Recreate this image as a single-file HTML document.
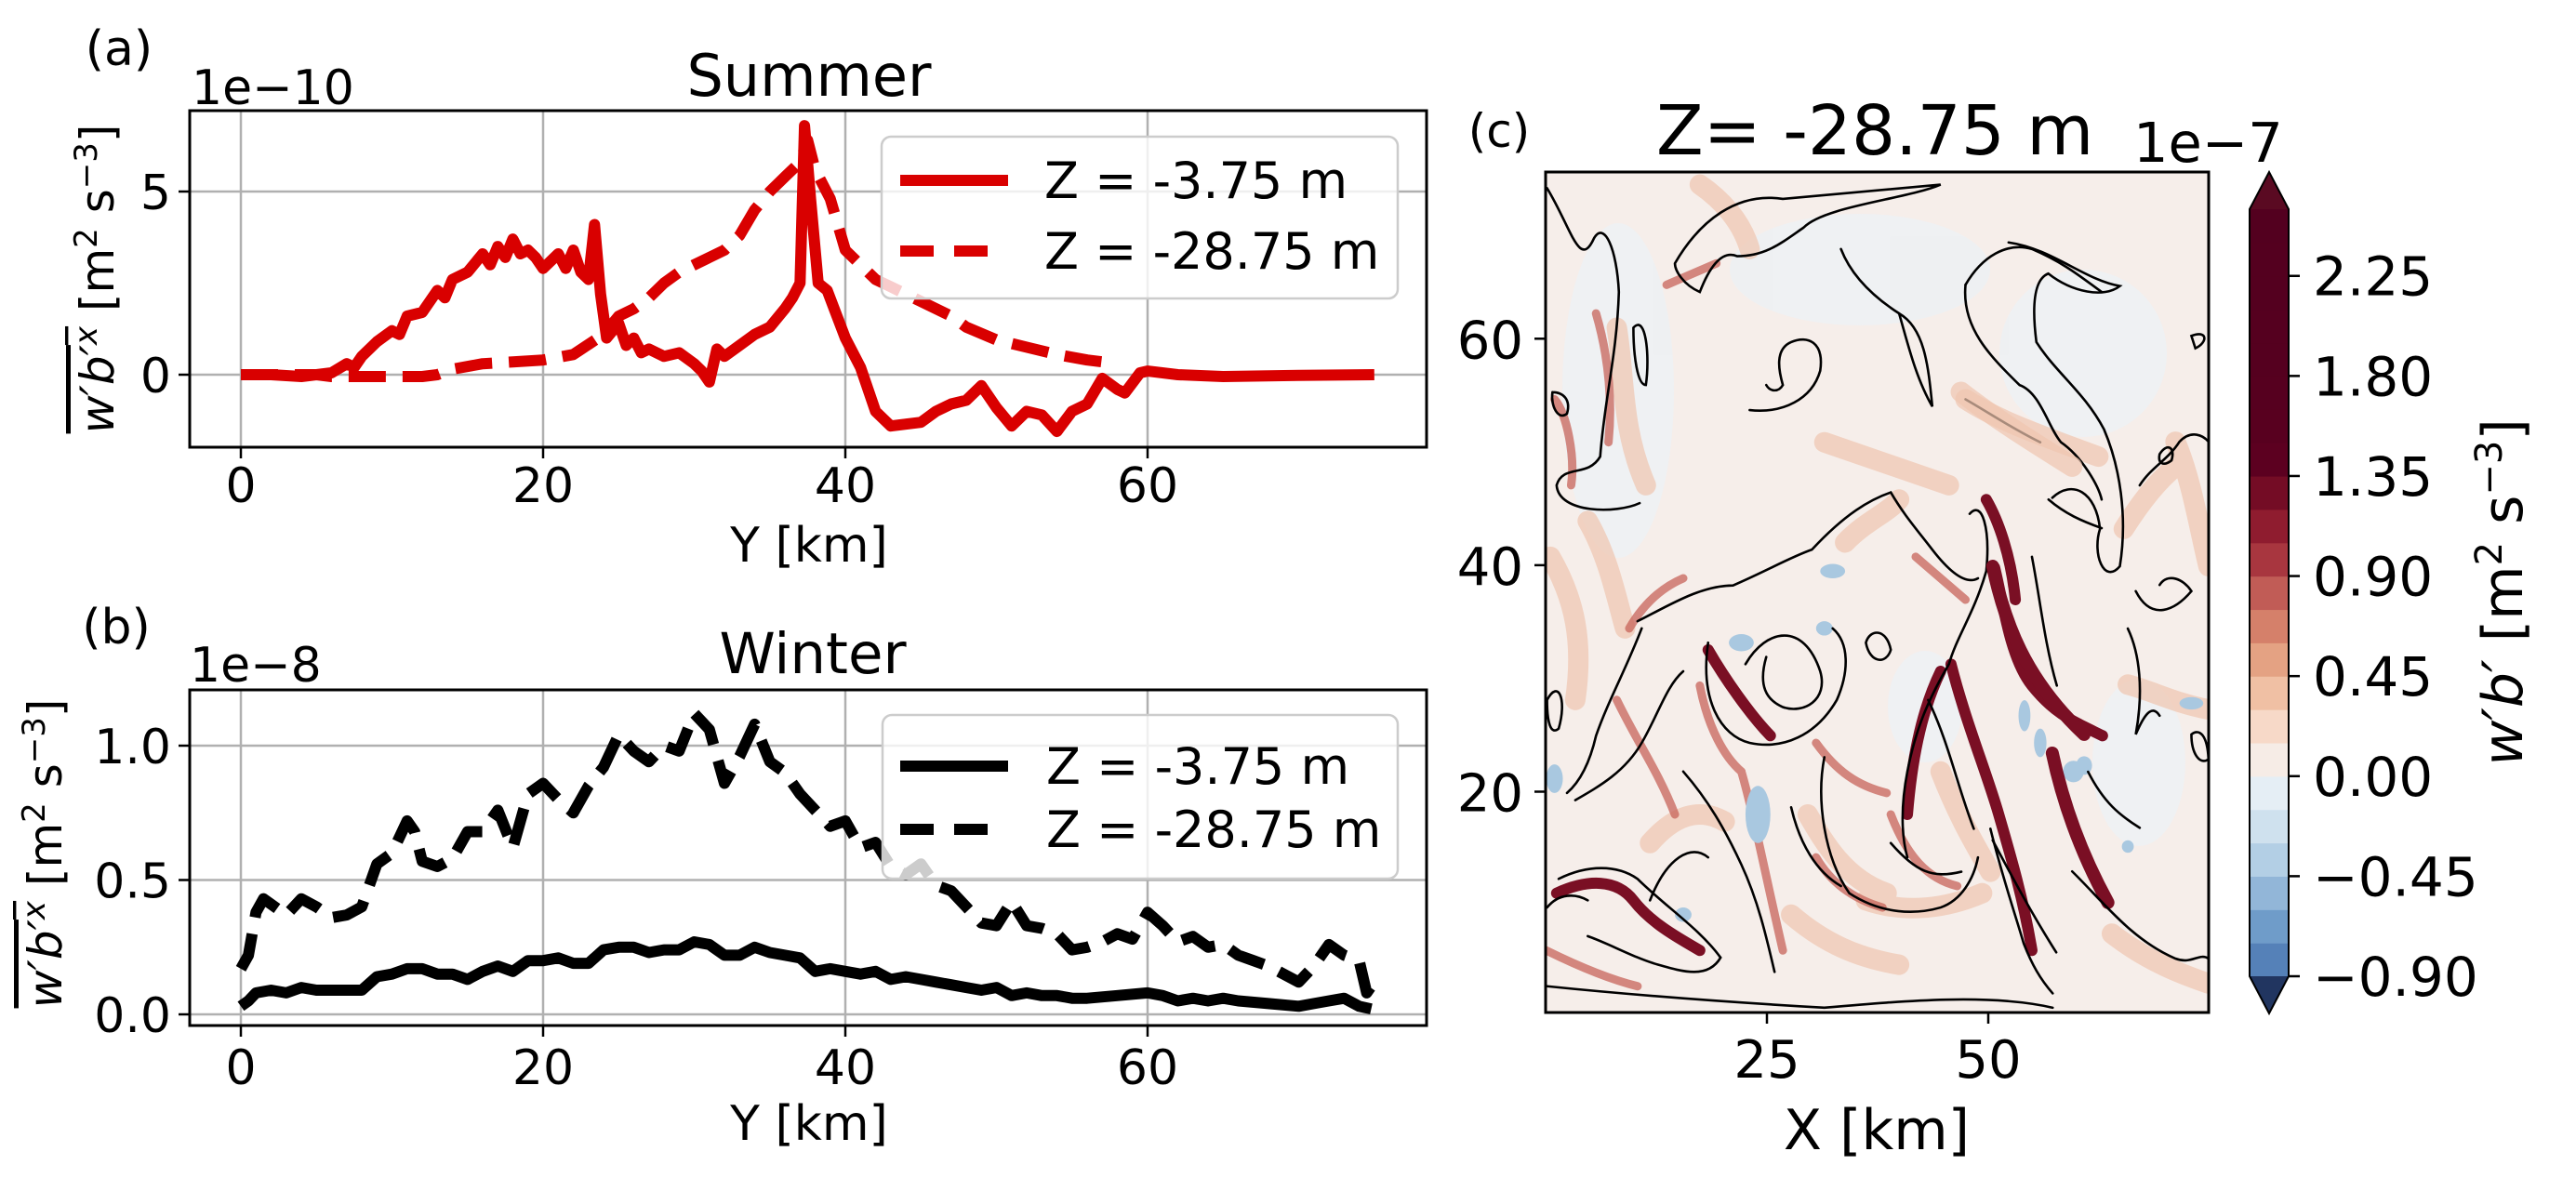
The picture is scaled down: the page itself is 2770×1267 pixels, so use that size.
<!DOCTYPE html>
<html><head><meta charset="utf-8"><style>
html,body{margin:0;padding:0;background:#fff;}
svg{display:block;font-family:"DejaVu Sans","Liberation Sans",sans-serif;}
</style></head><body>
<svg id="fig" width="2770" height="1267" viewBox="0 0 2770 1267" xmlns="http://www.w3.org/2000/svg">
<defs>
<clipPath id="clipA"><rect x="204" y="119" width="1330" height="362"/></clipPath>
<clipPath id="clipB"><rect x="204" y="742" width="1330" height="361"/></clipPath>
<clipPath id="clipC"><rect x="1662" y="185" width="713" height="904"/></clipPath>
</defs>
<rect width="2770" height="1267" fill="#fff"/>

<g id="panelA">
<g id="gridA"></g>
<g id="linesA" clip-path="url(#clipA)"></g>
<rect x="204" y="119" width="1330" height="362" fill="none" stroke="#000" stroke-width="3"/>
<g id="ticksA"></g>
<text x="128" y="70" font-size="52" text-anchor="middle">(a)</text>
<text x="206" y="112" font-size="52">1e−10</text>
<text x="870" y="103" font-size="62" text-anchor="middle">Summer</text>
<text x="870" y="604" font-size="52" text-anchor="middle">Y [km]</text>
<text transform="translate(122,300) rotate(-90)" font-size="50" text-anchor="middle"><tspan font-style="italic" text-decoration="overline">w′b′</tspan><tspan font-style="italic" text-decoration="overline" font-size="34" dy="-18">x</tspan><tspan dy="18"> [m</tspan><tspan font-size="34" dy="-18">2</tspan><tspan dy="18"> s</tspan><tspan font-size="34" dy="-18">−3</tspan><tspan dy="18">]</tspan></text>
<g>
<rect x="948" y="147" width="555" height="174" rx="10" fill="#fff" fill-opacity="0.8" stroke="#ccc" stroke-width="2.5"/>
<line x1="968" y1="194" x2="1084" y2="194" stroke="#d90000" stroke-width="12"/>
<text x="1123" y="213" font-size="54">Z = -3.75 m</text>
<line x1="968" y1="270" x2="1084" y2="270" stroke="#d90000" stroke-width="12" stroke-dasharray="36 22"/>
<text x="1123" y="289" font-size="54">Z = -28.75 m</text>
</g>
</g>

<g id="panelB">
<g id="gridB"></g>
<g id="linesB" clip-path="url(#clipB)"></g>
<rect x="204" y="742" width="1330" height="361" fill="none" stroke="#000" stroke-width="3"/>
<g id="ticksB"></g>
<text x="125" y="692" font-size="52" text-anchor="middle">(b)</text>
<text x="204" y="733" font-size="52">1e−8</text>
<text x="874" y="724" font-size="61" text-anchor="middle">Winter</text>
<text x="870" y="1226" font-size="52" text-anchor="middle">Y [km]</text>
<text transform="translate(66,918) rotate(-90)" font-size="50" text-anchor="middle"><tspan font-style="italic" text-decoration="overline">w′b′</tspan><tspan font-style="italic" text-decoration="overline" font-size="34" dy="-18">x</tspan><tspan dy="18"> [m</tspan><tspan font-size="34" dy="-18">2</tspan><tspan dy="18"> s</tspan><tspan font-size="34" dy="-18">−3</tspan><tspan dy="18">]</tspan></text>
<g>
<rect x="949" y="769" width="554" height="176" rx="10" fill="#fff" fill-opacity="0.8" stroke="#ccc" stroke-width="2.5"/>
<line x1="968" y1="824" x2="1084" y2="824" stroke="#000" stroke-width="12"/>
<text x="1125" y="843" font-size="54">Z = -3.75 m</text>
<line x1="968" y1="892" x2="1084" y2="892" stroke="#000" stroke-width="12" stroke-dasharray="36 22"/>
<text x="1125" y="911" font-size="54">Z = -28.75 m</text>
</g>
</g>

<g id="panelC">
<g clip-path="url(#clipC)">
<rect x="1662" y="185" width="713" height="904" fill="#f6eeea"/>
<g fill="#edf1f4" opacity="0.85">
<ellipse cx="1740" cy="420" rx="60" ry="180"/>
<ellipse cx="2000" cy="290" rx="140" ry="60"/>
<ellipse cx="2240" cy="380" rx="90" ry="90"/>
<ellipse cx="2070" cy="760" rx="40" ry="60"/>
<ellipse cx="2300" cy="820" rx="50" ry="90"/>
</g>
<g transform="translate(1560,60) scale(0.4464,0.7698)" fill="none" stroke-linecap="round">
<g stroke="#f0c6b0" stroke-width="22" opacity="0.7">
<path vector-effect="non-scaling-stroke" d="M400,380 C420,450 410,520 470,600"/>
<path vector-effect="non-scaling-stroke" d="M1240,480 C1320,510 1420,530 1560,560"/>
<path vector-effect="non-scaling-stroke" d="M860,1060 C900,1100 950,1150 1050,1170"/>
<path vector-effect="non-scaling-stroke" d="M1000,1180 C1100,1200 1200,1190 1280,1170"/>
<path vector-effect="non-scaling-stroke" d="M950,680 C1000,650 1050,640 1080,620"/>
<path vector-effect="non-scaling-stroke" d="M330,650 C380,700 400,760 420,800"/>
<path vector-effect="non-scaling-stroke" d="M900,540 C1000,560 1100,580 1200,600"/>
<path vector-effect="non-scaling-stroke" d="M240,700 C300,760 320,820 300,900"/>
<path vector-effect="non-scaling-stroke" d="M600,180 C650,200 700,230 720,270"/>
<path vector-effect="non-scaling-stroke" d="M1180,1000 C1220,1060 1260,1100 1300,1140"/>
<path vector-effect="non-scaling-stroke" d="M480,1100 C540,1060 600,1050 660,1070"/>
<path vector-effect="non-scaling-stroke" d="M820,1200 C900,1240 980,1260 1080,1270"/>
</g>
<g stroke="#c8645a" stroke-width="9" opacity="0.75">
<path vector-effect="non-scaling-stroke" d="M250,480 C280,500 300,560 290,600"/>
<path vector-effect="non-scaling-stroke" d="M700,1000 C730,1060 760,1150 800,1250"/>
<path vector-effect="non-scaling-stroke" d="M230,1250 C300,1270 380,1290 450,1300"/>
<path vector-effect="non-scaling-stroke" d="M520,320 C560,310 600,300 640,290"/>
<path vector-effect="non-scaling-stroke" d="M880,960 C930,1000 980,1020 1050,1030"/>
<path vector-effect="non-scaling-stroke" d="M430,800 C470,760 520,740 560,730"/>
<path vector-effect="non-scaling-stroke" d="M400,900 C450,960 500,1000 540,1060"/>
<path vector-effect="non-scaling-stroke" d="M1060,1060 C1100,1120 1150,1150 1220,1160"/>
<path vector-effect="non-scaling-stroke" d="M880,1120 C920,1160 980,1180 1040,1190"/>
<path vector-effect="non-scaling-stroke" d="M600,880 C620,940 660,980 700,1000"/>
<path vector-effect="non-scaling-stroke" d="M1120,700 C1160,720 1200,740 1240,760"/>
<path vector-effect="non-scaling-stroke" d="M350,360 C380,420 390,480 380,540"/>
</g>
<g stroke="#7a0f24" stroke-width="12">
<path vector-effect="non-scaling-stroke" d="M1310,715 C1330,760 1345,840 1400,880 S1500,930 1570,950"/>
<path vector-effect="non-scaling-stroke" d="M1180,860 C1130,920 1110,990 1100,1060"/>
<path vector-effect="non-scaling-stroke" d="M1205,850 C1240,930 1290,1000 1320,1060 S1380,1180 1400,1250"/>
<path vector-effect="non-scaling-stroke" d="M255,1170 C330,1150 400,1150 440,1180 S540,1230 600,1250"/>
<path vector-effect="non-scaling-stroke" d="M620,830 C660,870 720,920 770,950"/>
<path vector-effect="non-scaling-stroke" d="M1290,620 C1320,650 1350,700 1360,760"/>
</g>
<g fill="#a9c8e0" stroke="none">
<ellipse cx="740" cy="1060" rx="30" ry="40"/><ellipse cx="1420" cy="960" rx="15" ry="20"/>
<ellipse cx="1500" cy="1000" rx="25" ry="15"/><ellipse cx="250" cy="1010" rx="20" ry="20"/>
<ellipse cx="700" cy="820" rx="30" ry="12"/><ellipse cx="900" cy="800" rx="20" ry="10"/>
<ellipse cx="560" cy="1200" rx="20" ry="10"/><ellipse cx="920" cy="720" rx="30" ry="10"/>
</g>
<g stroke="#000" stroke-width="2.6">
<path vector-effect="non-scaling-stroke" d="M232,185 C290,240 310,300 345,255 C370,230 400,270 405,330 C400,420 370,480 360,560 C330,590 270,570 255,600 C260,640 400,640 455,625"/>
<path vector-effect="non-scaling-stroke" d="M540,290 C600,230 690,190 800,200 L1180,180 C1100,200 900,210 850,240 C800,260 760,280 690,280 C650,270 620,300 600,330 C560,320 540,300 540,290"/>
<path vector-effect="non-scaling-stroke" d="M1240,320 C1280,280 1340,260 1400,270 C1480,290 1520,310 1568,330"/>
<path vector-effect="non-scaling-stroke" d="M1240,320 C1230,380 1300,420 1370,460 C1420,470 1440,520 1470,540 C1520,560 1560,600 1568,620"/>
<path vector-effect="non-scaling-stroke" d="M720,495 C800,500 870,480 890,440 C900,400 860,390 820,400 C780,410 790,440 800,460 C790,470 770,470 760,460"/>
<path vector-effect="non-scaling-stroke" d="M1080,360 C1100,400 1120,450 1160,490 C1150,430 1140,380 1080,360 Z"/>
<path vector-effect="non-scaling-stroke" d="M440,380 C470,360 480,420 470,460 C450,460 440,420 440,380 Z"/>
<path vector-effect="non-scaling-stroke" d="M450,790 C520,770 600,740 680,740 C760,720 820,700 870,690 C950,640 1010,620 1060,610 C1090,640 1120,660 1160,690 C1200,720 1240,740 1270,730"/>
<path vector-effect="non-scaling-stroke" d="M1250,640 C1280,620 1300,660 1290,720 C1260,780 1220,810 1200,850 C1150,900 1120,940 1100,1000 C1080,1060 1090,1100 1100,1120"/>
<path vector-effect="non-scaling-stroke" d="M710,850 C760,800 850,790 890,860 C910,900 850,920 800,910 C760,900 740,880 760,840"/>
<path vector-effect="non-scaling-stroke" d="M620,820 C600,900 650,950 720,960 C800,970 880,950 930,900 C960,860 960,820 920,800"/>
<path vector-effect="non-scaling-stroke" d="M260,1150 C330,1130 400,1130 450,1150 C520,1190 600,1220 650,1260 C620,1290 560,1280 500,1270 C440,1260 380,1240 330,1230"/>
<path vector-effect="non-scaling-stroke" d="M232,1300 C400,1310 600,1320 900,1330 C1100,1320 1300,1310 1450,1330"/>
<path vector-effect="non-scaling-stroke" d="M560,1000 C620,1040 660,1080 700,1130 C740,1180 760,1230 780,1280"/>
<path vector-effect="non-scaling-stroke" d="M900,980 C880,1040 900,1120 960,1170 C1040,1200 1120,1200 1180,1190 C1230,1180 1260,1150 1270,1120"/>
<path vector-effect="non-scaling-stroke" d="M1300,1080 C1330,1150 1360,1200 1380,1240 C1400,1270 1420,1290 1450,1310"/>
<path vector-effect="non-scaling-stroke" d="M460,800 C420,860 380,900 350,950 C330,1000 300,1020 280,1030"/>
<path vector-effect="non-scaling-stroke" d="M1000,820 C1010,800 1050,800 1060,830 C1050,850 1010,850 1000,820 Z"/>
<path vector-effect="non-scaling-stroke" d="M1400,700 C1420,760 1430,820 1460,880"/>
<path vector-effect="non-scaling-stroke" d="M1440,620 C1480,640 1520,650 1568,660"/>
<path vector-effect="non-scaling-stroke" d="M245,470 C270,470 290,480 280,500 C260,510 240,490 245,470"/>
<path vector-effect="non-scaling-stroke" d="M232,900 C260,870 280,900 260,940 C240,950 232,930 232,900"/>
<path vector-effect="non-scaling-stroke" d="M1240,480 C1300,500 1350,520 1420,540"/>
<path vector-effect="non-scaling-stroke" d="M1060,1100 C1120,1140 1160,1150 1230,1140"/>
<path vector-effect="non-scaling-stroke" d="M300,1040 C360,1020 420,1000 460,960 C500,920 520,880 560,860"/>
<path vector-effect="non-scaling-stroke" d="M480,1180 C520,1120 580,1100 620,1120"/>
<path vector-effect="non-scaling-stroke" d="M820,1050 C840,1100 880,1140 940,1160"/>
<path vector-effect="non-scaling-stroke" d="M1150,900 C1200,960 1220,1020 1260,1080"/>
<path vector-effect="non-scaling-stroke" d="M232,1190 C260,1170 300,1170 330,1180"/>
<path vector-effect="non-scaling-stroke" d="M1080,360 C1000,330 960,300 940,270"/>
</g>
</g>
<g transform="translate(2100,100) scale(0.4274,0.6698)" fill="none" stroke-linecap="round">
<g stroke="#f0c6b0" stroke-width="22" opacity="0.7">
<path vector-effect="non-scaling-stroke" d="M440,950 C500,960 560,980 643,990"/>
<path vector-effect="non-scaling-stroke" d="M430,700 C480,650 520,620 560,600"/>
<path vector-effect="non-scaling-stroke" d="M400,1350 C500,1400 600,1420 643,1430"/>
<path vector-effect="non-scaling-stroke" d="M20,480 C100,520 200,560 300,600"/>
<path vector-effect="non-scaling-stroke" d="M560,560 C600,620 620,700 643,760"/>
</g>
<g stroke="#7a0f24" stroke-width="14">
<path vector-effect="non-scaling-stroke" d="M100,760 C130,850 180,940 330,1030"/>
<path vector-effect="non-scaling-stroke" d="M250,1060 C280,1150 330,1230 390,1300"/>
</g>
<g fill="#a9c8e0" stroke="none">
<ellipse cx="180" cy="1000" rx="15" ry="25"/><ellipse cx="330" cy="1080" rx="20" ry="15"/>
<ellipse cx="600" cy="980" rx="30" ry="10"/><ellipse cx="440" cy="1210" rx="15" ry="10"/>
</g>
<g stroke="#000" stroke-width="2.6">
<path vector-effect="non-scaling-stroke" d="M140,240 C250,250 330,300 420,310 C380,330 300,320 240,290 C200,300 200,350 210,400 C260,450 330,480 380,540 C420,600 440,680 420,760 C380,790 350,740 370,700 C360,640 300,620 250,650"/>
<path vector-effect="non-scaling-stroke" d="M600,390 C640,380 643,400 610,410 Z"/>
<path vector-effect="non-scaling-stroke" d="M470,630 C500,600 540,590 570,560 C600,540 630,550 643,560"/>
<path vector-effect="non-scaling-stroke" d="M460,800 C500,850 560,830 600,800 C580,780 540,770 520,790"/>
<path vector-effect="non-scaling-stroke" d="M440,860 C470,900 480,960 460,1030 C480,1000 500,980 520,1000"/>
<path vector-effect="non-scaling-stroke" d="M600,1030 C620,1020 640,1030 643,1070 C620,1080 600,1060 600,1030"/>
<path vector-effect="non-scaling-stroke" d="M340,1090 C380,1140 420,1160 470,1180"/>
<path vector-effect="non-scaling-stroke" d="M300,1250 C380,1300 450,1360 560,1390 C600,1400 620,1380 643,1390"/>
<path vector-effect="non-scaling-stroke" d="M100,1200 C150,1260 200,1320 260,1380"/>
<path vector-effect="non-scaling-stroke" d="M520,580 C540,560 560,570 550,590 C530,600 515,595 520,580"/>
</g>
</g>
</g>
<rect x="1662" y="185" width="713" height="904" fill="none" stroke="#000" stroke-width="3"/>
<g id="ticksC"></g>
<text x="1612" y="158" font-size="50" text-anchor="middle">(c)</text>
<text x="1781" y="166" font-size="74">Z= -28.75 m</text>
<text x="2018" y="1236" font-size="60" text-anchor="middle">X [km]</text>
<g id="colorbar"></g>
<text x="2294" y="174" font-size="59">1e−7</text>
<text transform="translate(2712,637) rotate(-90)" font-size="60" text-anchor="middle"><tspan font-style="italic">w′b′</tspan><tspan> [m</tspan><tspan font-size="40" dy="-22">2</tspan><tspan dy="22"> s</tspan><tspan font-size="40" dy="-22">−3</tspan><tspan dy="22">]</tspan></text>
</g>
</svg>
<script>
// ---- Panel a data (units 1e-10) ----
const aSolidX = [0,2,4,5,6,7,7.5,8,9,10,10.5,11,12,13,13.5,14,15,16,16.5,17,17.5,18,18.5,19,19.5,20,21,21.5,22,22.5,23,23.4,23.8,24.2,25,25.5,26,26.5,27,28,29,30,30.5,31,31.5,32,33,34,35,36,36.5,37,37.3,37.7,38.2,38.8,40,41,42,43,44,45,46,47,48,49,50,51,52,53,54,55,56,57,58,58.5,59.5,60,62,65,70,75];
const aSolidY = [0,0,-0.05,0,0.05,0.3,0.2,0.5,0.9,1.2,1.1,1.6,1.7,2.3,2.1,2.6,2.8,3.3,3.0,3.5,3.2,3.7,3.3,3.4,3.2,2.9,3.3,2.9,3.4,2.8,2.6,4.1,2.2,1.0,1.4,0.8,1.0,0.6,0.7,0.5,0.6,0.3,0.1,-0.2,0.7,0.5,0.8,1.1,1.3,1.8,2.1,2.5,6.8,4.8,2.5,2.3,1.0,0.2,-1.0,-1.4,-1.35,-1.3,-1.0,-0.8,-0.7,-0.3,-0.9,-1.4,-1.0,-1.1,-1.55,-1.0,-0.8,-0.1,-0.4,-0.5,0.05,0.1,0.0,-0.05,-0.02,0.0];
const aDashX = [0,5,6,8,10,12,13,14,16,18,20,22,24,25,26,27,28,29,30,31,32,33,34,35,36,37,37.5,38,39,40,41,42,43,45,47,48,50,52,54,56,57];
const aDashY = [0,0,-0.05,-0.05,-0.05,-0.05,0,0.15,0.3,0.35,0.4,0.55,1.1,1.6,1.8,2.1,2.5,2.8,3.0,3.2,3.4,3.8,4.5,5.0,5.4,5.8,6.4,5.6,4.8,3.4,3.0,2.6,2.4,2.0,1.6,1.3,0.95,0.75,0.55,0.4,0.35];
const aXTicks = [0,20,40,60];
const aYTicks = [0,5];
const aYTickLabels = ["0","5"];

// ---- Panel b data (units 1e-8) ----
const bSolidX = [0,0.5,1,2,3,4,5,6,7,8,9,10,11,12,13,14,15,16,17,18,19,20,21,22,23,24,25,26,27,28,29,30,31,32,33,34,35,36,37,38,39,40,41,42,43,44,45,46,47,48,49,50,51,52,53,54,55,56,58,60,61,62,63,64,65,66,68,70,71,72,73,74,74.8];
const bSolidY = [0.03,0.05,0.08,0.09,0.08,0.1,0.09,0.09,0.09,0.09,0.14,0.15,0.17,0.17,0.15,0.15,0.13,0.16,0.18,0.16,0.2,0.2,0.21,0.19,0.19,0.24,0.25,0.25,0.23,0.24,0.24,0.27,0.26,0.22,0.22,0.25,0.23,0.22,0.21,0.16,0.17,0.16,0.15,0.16,0.13,0.14,0.13,0.12,0.11,0.1,0.09,0.1,0.07,0.08,0.07,0.07,0.06,0.06,0.07,0.08,0.07,0.05,0.06,0.05,0.06,0.05,0.04,0.03,0.04,0.05,0.06,0.03,0.02];
const bDashX = [0,0.5,1,1.5,2,3,4,5,6,7,8,9,10,11,11.5,12,13,14,15,16,17,18,19,20,21,22,23,24,25,26,27,28,29,30,31,32,33,34,35,36,37,38,39,40,41,42,43,44,45,46,47,48,49,50,51,52,53,54,55,56,57,58,59,60,61,62,63,64,65,66,67,68,69,70,71,72,73,74,74.5,75];
const bDashY = [0.17,0.22,0.38,0.43,0.41,0.37,0.43,0.40,0.36,0.37,0.40,0.56,0.60,0.72,0.68,0.57,0.55,0.58,0.68,0.68,0.76,0.62,0.82,0.86,0.80,0.75,0.85,0.92,1.04,0.98,0.94,1.0,0.98,1.12,1.06,0.86,0.96,1.08,0.94,0.90,0.82,0.76,0.70,0.72,0.62,0.64,0.55,0.52,0.56,0.48,0.46,0.40,0.34,0.33,0.42,0.33,0.32,0.30,0.24,0.25,0.27,0.30,0.28,0.38,0.33,0.27,0.29,0.25,0.26,0.22,0.20,0.18,0.15,0.12,0.18,0.26,0.22,0.20,0.08,0.12];
const bXTicks = [0,20,40,60];
const bYTicks = [0,0.5,1.0];
const bYTickLabels = ["0.0","0.5","1.0"];

// ---- Panel c axes / colorbar ----
const cXTicks = [25,50];
const cYTicks = [20,40,60];
const cbLevelMin = -0.90;
const cbLevelStep = 0.15;
const cbColors = ["#5581b8","#6f9cc9","#92b6d8","#b3cfe5","#cfe1ee","#e5eef5","#f6ece6","#f7d9c8","#f0c0a4","#e4a283","#d5806a","#c15c56","#a8363f","#8f1c2f","#740c25","#5c0020","#58001f","#56001f","#55001f","#55001f","#54001f","#54001f","#53001f"];
const cbTicks = [-0.90,-0.45,0.00,0.45,0.90,1.35,1.80,2.25];

const NS = "http://www.w3.org/2000/svg";
function mk(tag, attrs, parent){const e=document.createElementNS(NS,tag);for(const k in attrs)e.setAttribute(k,attrs[k]);parent.appendChild(e);return e;}

const xA = v => 259 + v*16.25;
const yA = v => 403 - v*39.4;
const yB = v => 1091 - v*289;
const xC = v => 1662 + v*9.52;
const yC = v => 1089 - (v-0.5)*12.18;
const yCB = v => 1050 - (v-cbLevelMin)/cbLevelStep*(825/23);

function pathFrom(xs, ys, fx, fy){
  const n=Math.min(xs.length, ys.length); let d="";
  for(let i=0;i<n;i++){d+=(i?"L":"M")+fx(xs[i]).toFixed(1)+","+fy(ys[i]).toFixed(1);}
  return d;
}

function gridAndTicks(gridG, tickG, yTop, yBot, fy, yTicks, yLabels, xTicks, xLabelY, prefix){
  xTicks.forEach(t=>{
    const x=xA(t);
    const g=mk("line",{x1:x,x2:x,y1:yTop,y2:yBot,stroke:"#b0b0b0","stroke-width":2.5},gridG);
    
    
    const tk=mk("line",{x1:x,x2:x,y1:yBot,y2:yBot+12,stroke:"#000","stroke-width":2.5},tickG);
    
    
    const lb=mk("text",{x:x,y:xLabelY,"font-size":52,"text-anchor":"middle"},tickG);
    lb.textContent=String(t);
    
    
  });
  yTicks.forEach((t,i)=>{
    const y=fy(t);
    const g=mk("line",{x1:204,x2:1534,y1:y,y2:y,stroke:"#b0b0b0","stroke-width":2.5},gridG);
    
    
    const tk=mk("line",{x1:192,x2:204,y1:y,y2:y,stroke:"#000","stroke-width":2.5},tickG);
    
    
    const lb=mk("text",{x:184,y:y+19,"font-size":52,"text-anchor":"end"},tickG);
    lb.textContent=yLabels[i];
    
    
  });
}

gridAndTicks(document.getElementById("gridA"),document.getElementById("ticksA"),119,481,yA,aYTicks,aYTickLabels,aXTicks,540,"panel-a");
gridAndTicks(document.getElementById("gridB"),document.getElementById("ticksB"),742,1103,yB,bYTicks,bYTickLabels,bXTicks,1166,"panel-b");

const LA=document.getElementById("linesA");
const la1=mk("path",{d:pathFrom(aSolidX,aSolidY,xA,yA),fill:"none",stroke:"#d90000","stroke-width":12,"stroke-linejoin":"round"},LA);


const la2=mk("path",{d:pathFrom(aDashX,aDashY,xA,yA),fill:"none",stroke:"#d90000","stroke-width":12,"stroke-dasharray":"40 18","stroke-linejoin":"round"},LA);



const LB=document.getElementById("linesB");
const lb1=mk("path",{d:pathFrom(bSolidX,bSolidY,xA,yB),fill:"none",stroke:"#000","stroke-width":12,"stroke-linejoin":"round"},LB);


const lb2=mk("path",{d:pathFrom(bDashX,bDashY,xA,yB),fill:"none",stroke:"#000","stroke-width":12,"stroke-dasharray":"40 18","stroke-linejoin":"round"},LB);



const TC=document.getElementById("ticksC");
cXTicks.forEach(t=>{
  const x=xC(t);
  const tk=mk("line",{x1:x,x2:x,y1:1089,y2:1101,stroke:"#000","stroke-width":2.5},TC);
  
  
  const lb=mk("text",{x:x,y:1159,"font-size":56,"text-anchor":"middle"},TC);
  lb.textContent=String(t);
  
  
});
cYTicks.forEach(t=>{
  const y=yC(t);
  const tk=mk("line",{x1:1650,x2:1662,y1:y,y2:y,stroke:"#000","stroke-width":2.5},TC);
  
  
  const lb=mk("text",{x:1638,y:y+21,"font-size":56,"text-anchor":"end"},TC);
  lb.textContent=String(t);
  
  
});

const CB=document.getElementById("colorbar");
const cbX0=2419, cbX1=2461;
cbColors.forEach((c,i)=>{
  const lo=cbLevelMin+i*cbLevelStep, hi=lo+cbLevelStep;
  const r=mk("rect",{x:cbX0,y:yCB(hi),width:cbX1-cbX0,height:yCB(lo)-yCB(hi)+0.6,fill:c},CB);
  
  
});
const topY=yCB(cbLevelMin+cbColors.length*cbLevelStep), botY=yCB(cbLevelMin);
const tri1=mk("polygon",{points:`${cbX0},${topY} ${(cbX0+cbX1)/2},${topY-40} ${cbX1},${topY}`,fill:"#5a0a22"},CB);


const tri2=mk("polygon",{points:`${cbX0},${botY} ${(cbX0+cbX1)/2},${botY+40} ${cbX1},${botY}`,fill:"#213560"},CB);


const cbo=mk("polygon",{points:`${cbX0},${topY} ${(cbX0+cbX1)/2},${topY-40} ${cbX1},${topY} ${cbX1},${botY} ${(cbX0+cbX1)/2},${botY+40} ${cbX0},${botY}`,fill:"none",stroke:"#000","stroke-width":2},CB);


cbTicks.forEach(t=>{
  const y=yCB(t);
  const tk=mk("line",{x1:cbX1,x2:cbX1+12,y1:y,y2:y,stroke:"#000","stroke-width":2.5},CB);
  
  
  const lb=mk("text",{x:2487,y:y+21,"font-size":58},CB);
  lb.textContent=(t<0?"−":"")+Math.abs(t).toFixed(2);
  
  
});
</script>
</body></html>
